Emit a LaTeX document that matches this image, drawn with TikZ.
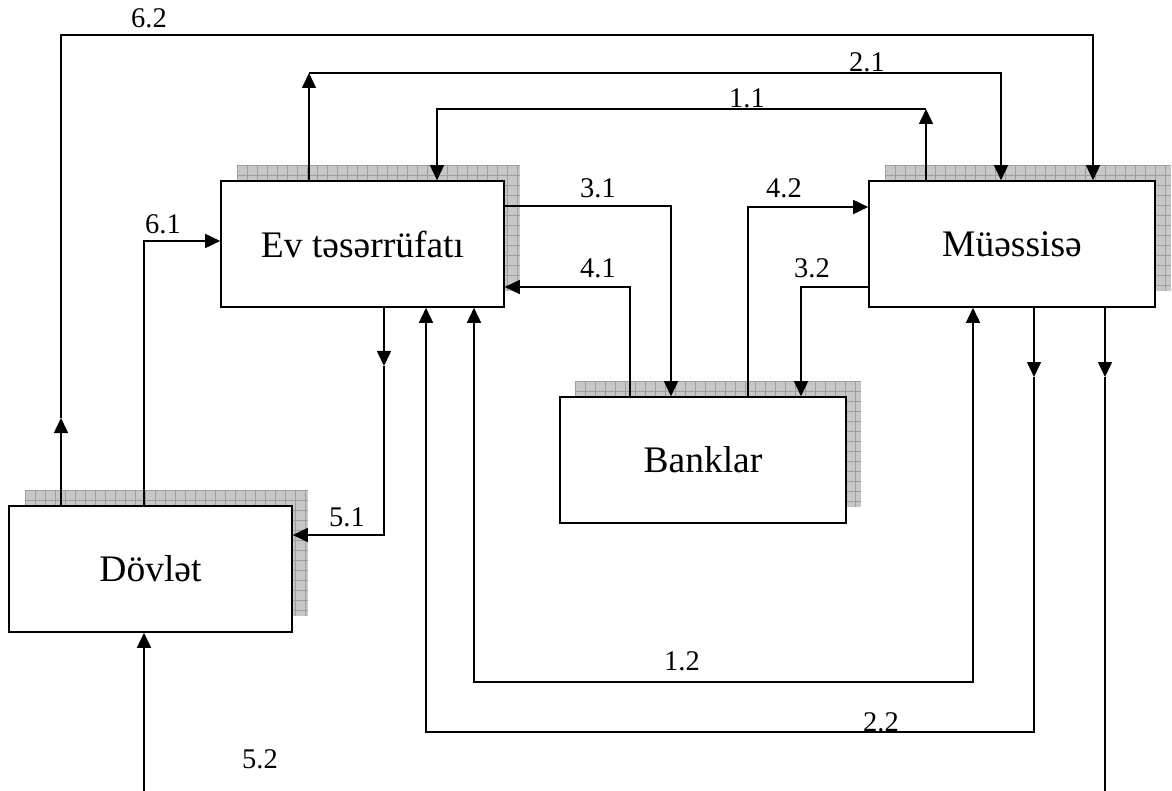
\documentclass[tikz,border=0pt]{standalone}
\usepackage{fontspec}
\setmainfont{Liberation Serif}
\usetikzlibrary{arrows.meta}
\tikzset{
  box/.style={draw, line width=1.6pt, fill=white, minimum width=283pt, minimum height=126pt, inner sep=0pt, font=\fontsize{37.5}{42}\selectfont},
  lab/.style={anchor=base west, inner sep=0pt, font=\fontsize{28.5}{32}\selectfont},
  conn/.style={line width=1.6pt},
  arr/.style={conn, -{Triangle[length=15pt,width=14pt]}},
  darr/.style={conn, {Triangle[length=15pt,width=14pt]}-{Triangle[length=15pt,width=14pt]}},
  shadowfill/.style={fill=black!22},
  shadowgrid/.style={draw=black!38, line width=0.8pt}
}
\begin{document}
\begin{tikzpicture}[x=1pt,y=-1pt]
\useasboundingbox (0,0) rectangle (1172,791);
% shadows
\foreach \x/\y/\w in {237/165/283, 885/165/286, 575/381/286, 25/490/283}{
  \begin{scope}
    \clip (\x,\y) rectangle ++(\w,126);
    \fill[shadowfill] (\x,\y) rectangle ++(\w,126);
    \foreach \i in {0,10,...,290}{\draw[shadowgrid] (\x+\i,\y) -- ++(0,126);}
    \foreach \j in {0,10,...,130}{\draw[shadowgrid] (\x,\y+\j) -- ++(\w,0);}
  \end{scope}
}
% boxes
\node[box] (ev) at (362.5,244) {Ev təsərrüfatı};
\node[box, minimum width=286pt] (mu) at (1012,244) {Müəssisə};
\node[box, minimum width=286pt] (bk) at (703,460) {Banklar};
\node[box] (dv) at (150.5,569) {Dövlət};
% helper coordinates
\coordinate (c11r) at (926,109);
\coordinate (c11l) at (437,109);
\coordinate (c21l) at (309,73);
\coordinate (c21r) at (1001,73);
\coordinate (c62m) at (61,418);
\coordinate (c62l) at (61,35);
\coordinate (c62r) at (1093,35);
\coordinate (c61) at (144,241);
\coordinate (c31) at (671,206);
\coordinate (c41) at (630,287);
\coordinate (c42) at (748,207);
\coordinate (c32) at (801,287);
\coordinate (c51a) at (384,366);
\coordinate (c51b) at (384,535);
\coordinate (c52) at (144,791);
\coordinate (c12l) at (474,682);
\coordinate (c12r) at (973,682);
\coordinate (c22a) at (1034,377);
\coordinate (c22r) at (1034,732);
\coordinate (c22l) at (426,732);
\coordinate (cra) at (1105,377);
\coordinate (crb) at (1105,791);
% connectors
\draw[arr] (mu.north -| c11r) -- (c11r);
\draw[arr] (c11r) -- (c11l) -- (c11l |- ev.north);
\draw[arr] (ev.north -| c21l) -- (c21l);
\draw[arr] (c21l) -- (c21r) -- (c21r |- mu.north);
\draw[arr] (dv.north -| c62m) -- (c62m);
\draw[arr] (c62m) -- (c62l) -- (c62r) -- (c62r |- mu.north);
\draw[arr] (dv.north -| c61) -- (c61) -- (c61 -| ev.west);
\draw[arr] (ev.east |- c31) -- (c31) -- (c31 |- bk.north);
\draw[arr] (bk.north -| c41) -- (c41) -- (c41 -| ev.east);
\draw[arr] (bk.north -| c42) -- (c42) -- (c42 -| mu.west);
\draw[arr] (mu.west |- c32) -- (c32) -- (c32 |- bk.north);
\draw[arr] (ev.south -| c51a) -- (c51a);
\draw[arr] (c51a) -- (c51b) -- (c51b -| dv.east);
\draw[arr] (c52) -- (c52 |- dv.south);
\draw[darr] (ev.south -| c12l) -- (c12l) -- (c12r) -- (c12r |- mu.south);
\draw[arr] (mu.south -| c22a) -- (c22a);
\draw[arr] (c22a) -- (c22r) -- (c22l) -- (c22l |- ev.south);
\draw[arr] (mu.south -| cra) -- (cra);
\draw[conn] (cra) -- (crb);
% labels
\node[lab] (l62) at (131,28) {6.2};
\node[lab] (l21) at (849,72) {2.1};
\node[lab] (l11) at (729,108) {1.1};
\node[lab] (l61) at (145,234) {6.1};
\node[lab] (l31) at (580,198) {3.1};
\node[lab] (l42) at (766,198) {4.2};
\node[lab] (l41) at (580,278) {4.1};
\node[lab] (l32) at (794,278) {3.2};
\node[lab] (l51) at (329,526) {5.1};
\node[lab] (l12) at (664,670) {1.2};
\node[lab] (l22) at (863,731) {2.2};
\node[lab] (l52) at (242,768) {5.2};
\end{tikzpicture}
\end{document}
